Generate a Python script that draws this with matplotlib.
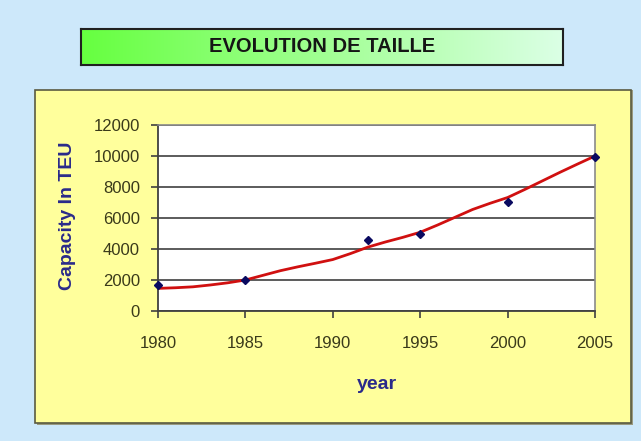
import numpy as np
import matplotlib.pyplot as plt
from matplotlib.patches import Rectangle

# data points
years = [1980, 1985, 1992, 1995, 2000, 2005]
capacity = [1680, 2000, 4580, 4950, 7050, 9960]

# trend curve, one value per year
trend_years = list(range(1980, 2006))
trend_vals = [1460, 1500, 1560, 1680, 1820, 2000, 2300, 2600, 2850, 3080,
              3320, 3700, 4120, 4450, 4750, 5080, 5550, 6050, 6550, 6950,
              7320, 7850, 8400, 8950, 9480, 10000]

xticks = [1980, 1985, 1990, 1995, 2000, 2005]
yticks = [0, 2000, 4000, 6000, 8000, 10000, 12000]

W, H = 641, 441
fig = plt.figure(figsize=(W / 100, H / 100), dpi=100)
fig.patch.set_facecolor('#cde8fa')

def fx(px):
    return px / W

def fy(py):
    return 1 - py / H

# yellow panel with a little shadow
fig.patches.append(Rectangle((fx(37), fy(425)), fx(596), 335 / H, transform=fig.transFigure,
                             facecolor='#9a9a80', edgecolor='none', zorder=-2))
fig.patches.append(Rectangle((fx(35), fy(423)), fx(596), 333 / H, transform=fig.transFigure,
                             facecolor='#ffff9c', edgecolor='#5a5a40', linewidth=1.2, zorder=-1))

# title box with green gradient
tax = fig.add_axes([fx(81), fy(65), fx(482), 36 / H])
grad = np.linspace(0, 1, 256).reshape(1, -1)
c0 = np.array([0.40, 1.0, 0.25])
c1 = np.array([0.86, 1.0, 0.90])
img = c0[None, None, :] * (1 - grad[..., None]) + c1[None, None, :] * grad[..., None]
tax.imshow(img, aspect='auto', extent=[0, 1, 0, 1])
tax.set_xlim(0, 1)
tax.set_ylim(0, 1)
tax.set_xticks([])
tax.set_yticks([])
for s in tax.spines.values():
    s.set_color('#202020')
    s.set_linewidth(1.5)
tax.text(0.5, 0.5, 'EVOLUTION DE TAILLE', ha='center', va='center',
         fontsize=14.5, fontweight='bold', color='#151515',
         family=['Liberation Sans Narrow', 'Liberation Sans', 'DejaVu Sans'])

# main axes
ax = fig.add_axes([fx(158), fy(311), fx(437), 186 / H])
ax.set_facecolor('white')
ax.plot(trend_years, trend_vals, color='#d01010', linewidth=2.0, zorder=3,
        solid_joinstyle='round')
ax.plot(years, capacity, linestyle='none', marker='D', markersize=4.5,
        color='#0a0a60', zorder=4, clip_on=False)

ax.set_xlim(1980, 2005)
ax.set_ylim(0, 12000)
ax.set_xticks(xticks)
ax.set_yticks(yticks)
ax.yaxis.grid(True, color='#404040', linewidth=1.2)
ax.set_axisbelow(True)

tick_font = dict(family=['Liberation Sans', 'DejaVu Sans'], size=12)
ax.set_xticklabels([str(v) for v in xticks], fontdict=tick_font, color='#3a3a1a')
ax.set_yticklabels([str(v) for v in yticks], fontdict=tick_font, color='#3a3a1a')
ax.tick_params(axis='both', direction='out', length=5, color='#404040', width=1.2)
ax.tick_params(axis='y', pad=8)
ax.tick_params(axis='x', pad=13)

for side in ['left', 'bottom']:
    ax.spines[side].set_color('#404040')
    ax.spines[side].set_linewidth(1.3)
for side in ['top', 'right']:
    ax.spines[side].set_color('#8a8a8a')
    ax.spines[side].set_linewidth(1.2)

label_font = dict(family=['Liberation Sans', 'DejaVu Sans'], size=14, weight='bold')
ax.set_xlabel('year', fontdict=label_font, color='#2a2a8a', labelpad=18)
fig.text(fx(67), fy(216), 'Capacity In TEU', rotation=90, ha='center', va='center',
         color='#2a2a8a', **label_font)

fig.savefig('out.png', dpi=100)
